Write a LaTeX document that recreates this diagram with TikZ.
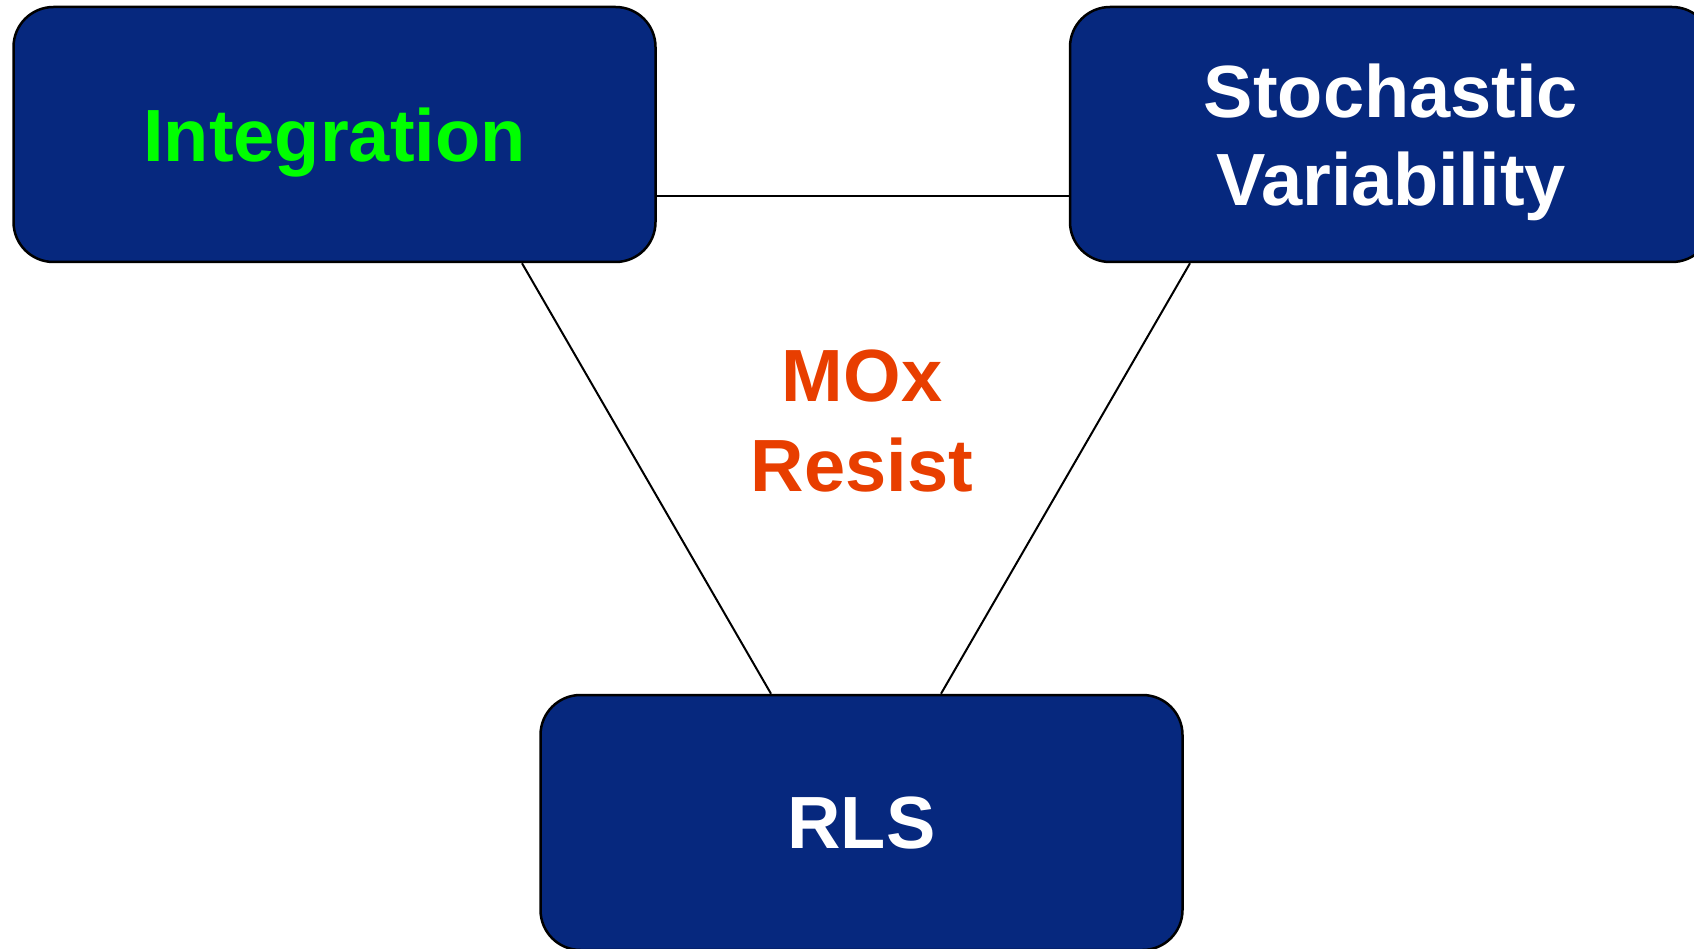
\documentclass[tikz,border=0pt]{standalone}
\usepackage{fontspec}
\setmainfont{Liberation Sans}
\usetikzlibrary{positioning}

\definecolor{boxnavy}{RGB}{6,40,126}
\definecolor{integgreen}{RGB}{0,255,0}
\definecolor{moxorange}{RGB}{232,62,0}

\tikzset{
  topicbox/.style={rectangle, rounded corners=40pt, draw=black, line width=2.5pt,
    fill=boxnavy, minimum width=642pt, minimum height=255pt, align=center,
    text depth=0pt, font=\fontsize{74}{88}\selectfont\bfseries},
  link/.style={draw=black, line width=2pt}
}

\begin{document}
\begin{tikzpicture}[x=1pt, y=-1pt]
        \useasboundingbox (0,0) rectangle (1694,949);
        \node[topicbox, text=integgreen] (integ) at (334.5,134.5) {Integration};
        \node[topicbox, text=white] (stoch) at (1391,134.5) {Stochastic\\Variability};
        \node[topicbox, text=white] (rls) at (861.5,822.5) {RLS};
        \node[text=moxorange, align=center, font=\fontsize{74}{90}\selectfont\bfseries] (mox) at (862,421) {MOx\\Resist};

        \draw[link] ([yshift=-62pt]integ.east) -- ([yshift=-62pt]stoch.west);
        \draw[link] ([xshift=187.5pt]integ.south) -- ([xshift=-90.5pt]rls.north);
        \draw[link] ([xshift=-201pt]stoch.south) -- ([xshift=79.5pt]rls.north);
\end{tikzpicture}
\end{document}
